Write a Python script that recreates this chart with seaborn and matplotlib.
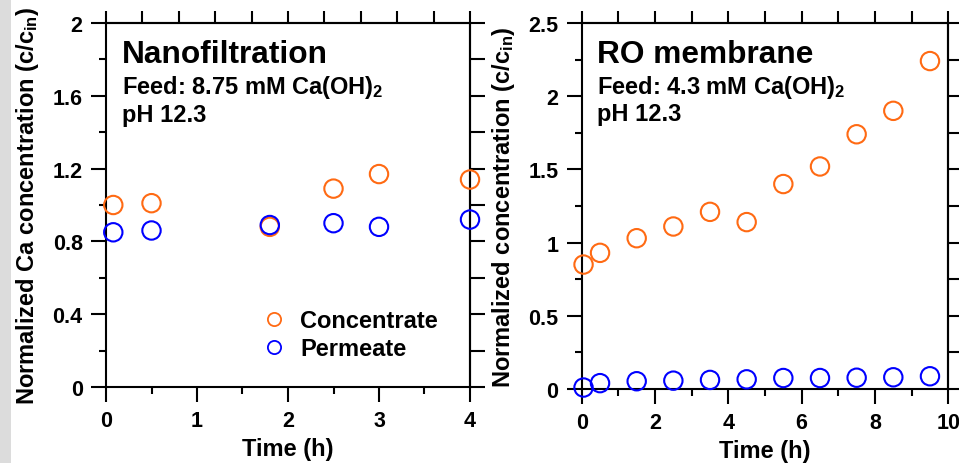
# Normalized Ca concentration: nanofiltration vs RO membrane
import numpy as np
import pandas as pd
import matplotlib
matplotlib.use('Agg')
import matplotlib.pyplot as plt
import seaborn as sns
from matplotlib.lines import Line2D
from matplotlib.patches import Rectangle
from matplotlib.font_manager import FontProperties
from matplotlib.ticker import MultipleLocator, FormatStrFormatter

# ==========================================
# 1. DATA
# ==========================================
nf_time = [0.08, 0.5, 1.8, 2.5, 3.0, 4.0]
nf_concentrate = [1.00, 1.01, 0.88, 1.09, 1.17, 1.14]
nf_permeate = [0.85, 0.86, 0.89, 0.90, 0.88, 0.92]

ro_time = [0.05, 0.5, 1.5, 2.5, 3.5, 4.5, 5.5, 6.5, 7.5, 8.5, 9.5]
ro_concentrate = [0.85, 0.93, 1.03, 1.11, 1.21, 1.14, 1.40, 1.52, 1.74, 1.90, 2.24]
ro_permeate = [0.01, 0.04, 0.053, 0.057, 0.062, 0.066, 0.075, 0.075, 0.077, 0.08, 0.087]

series_names = ['Concentrate', 'Permeate']
series_colors = {'Concentrate': '#FF6A13', 'Permeate': '#0000FF'}


def long_form(t, conc, perm):
    return pd.DataFrame({
        'time': list(t) + list(t),
        'value': list(conc) + list(perm),
        'series': ['Concentrate'] * len(t) + ['Permeate'] * len(t),
    })


# ==========================================
# 2. STYLE
# ==========================================
sns.set_style('ticks')
plt.rcParams['font.family'] = ['Liberation Sans', 'DejaVu Sans']
plt.rcParams['font.weight'] = 'bold'
plt.rcParams['mathtext.fontset'] = 'custom'
for k in ['rm', 'bf', 'it', 'sf']:
    plt.rcParams['mathtext.' + k] = 'Liberation Sans:bold'
for k in ['text.color', 'axes.labelcolor', 'xtick.color', 'ytick.color', 'axes.edgecolor']:
    plt.rcParams[k] = 'black'
plt.rcParams['axes.linewidth'] = 1.5

fig = plt.figure(figsize=(9.59, 4.64), dpi=100)
fig.patches.append(Rectangle((0, 0), 11 / 959, 1, transform=fig.transFigure,
                             facecolor='#dcdcdc', edgecolor='none', zorder=0))

ax1 = fig.add_axes([106 / 959, 76 / 464, 364 / 959, 364 / 464])
ax2 = fig.add_axes([581.7 / 959, 74 / 464, 366.6 / 959, 366 / 464])


def draw_panel(ax, df, xmax, xmaj, xmin_, ymax, ymaj, ymin_, top_step, right_step, ylabel):
    sns.scatterplot(data=df, x='time', y='value', hue='series', hue_order=series_names,
                    palette=series_colors, s=175, linewidth=1.5, legend=False, ax=ax, zorder=5)
    # open circles
    coll = ax.collections[-1]
    coll.set_edgecolors(coll.get_facecolors())
    coll.set_facecolors('none')
    coll.set_clip_on(False)

    ax.set_xlim(0, xmax)
    ax.set_ylim(0, ymax)
    ax.xaxis.set_major_locator(MultipleLocator(xmaj))
    ax.xaxis.set_minor_locator(MultipleLocator(xmin_))
    ax.yaxis.set_major_locator(MultipleLocator(ymaj))
    ax.yaxis.set_minor_locator(MultipleLocator(ymin_))
    ax.yaxis.set_major_formatter(FormatStrFormatter('%g'))
    ax.xaxis.set_major_formatter(FormatStrFormatter('%g'))
    ax.tick_params(which='major', direction='out', length=10.8, width=1.5, pad=6,
                   labelsize=15.5, colors='black')
    ax.tick_params(which='minor', direction='out', length=5, width=1.5, colors='black')
    for lab in ax.get_xticklabels() + ax.get_yticklabels():
        lab.set_fontweight('bold')

    # mirror axes with their own tick spacing
    top = ax.secondary_xaxis('top')
    top.set_xticks(np.arange(0, xmax + 1e-9, top_step))
    top.tick_params(direction='out', length=8.6, width=1.5, labeltop=False, colors='black')
    right = ax.secondary_yaxis('right')
    right.set_yticks(np.arange(0, ymax + 1e-9, right_step))
    right.tick_params(direction='out', length=10.8, width=1.5, labelright=False, colors='black')
    for sp in ax.spines.values():
        sp.set_linewidth(1.5)
        sp.set_color('black')

    ax.set_xlabel('Time (h)', fontsize=17, fontweight='bold', labelpad=4, color='black')
    ax.set_ylabel(ylabel, fontsize=17, fontweight='bold', labelpad=8, color='black')


draw_panel(ax1, long_form(nf_time, nf_concentrate, nf_permeate), 4, 1, 0.5, 2, 0.4, 0.2,
           0.4, 0.2, 'Normalized Ca concentration (c/c$_{in}$)')
draw_panel(ax2, long_form(ro_time, ro_concentrate, ro_permeate), 10, 2, 1, 2.5, 0.5, 0.25,
           1, 0.25, 'Normalized concentration (c/c$_{in}$)')

# panel annotations
ax1.text(0.044, 0.892, 'Nanofiltration', transform=ax1.transAxes, fontsize=22.8, fontweight='bold')
ax1.text(0.044, 0.808, 'Feed: 8.75 mM Ca(OH)$_2$', transform=ax1.transAxes, fontsize=17, fontweight='bold')
ax1.text(0.044, 0.732, 'pH 12.3', transform=ax1.transAxes, fontsize=17, fontweight='bold')

ax2.text(0.042, 0.893, 'RO membrane', transform=ax2.transAxes, fontsize=22.8, fontweight='bold')
ax2.text(0.042, 0.809, 'Feed: 4.3 mM Ca(OH)$_2$', transform=ax2.transAxes, fontsize=17, fontweight='bold')
ax2.text(0.042, 0.734, 'pH 12.3', transform=ax2.transAxes, fontsize=17, fontweight='bold')

# legend (left panel only)
handles = [Line2D([], [], linestyle='', marker='o', markersize=9.5, markerfacecolor='none',
                  markeredgecolor=series_colors[n], markeredgewidth=1.3) for n in series_names]
leg_font = FontProperties(family='Liberation Sans', weight='bold', size=17)
leg = ax1.legend(handles, series_names, loc='center left', bbox_to_anchor=(0.429, 0.144),
                 frameon=False, handlelength=1.0, handletextpad=0.6,
                 borderpad=0, borderaxespad=0, labelspacing=0.2, prop=leg_font)
for t in leg.get_texts():
    t.set_color('black')

plt.savefig('out.png', dpi=100)
